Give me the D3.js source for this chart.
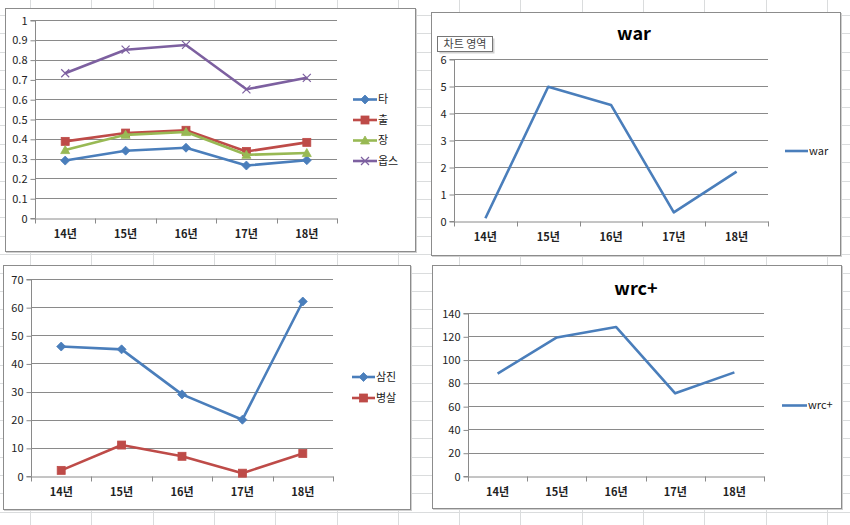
<!DOCTYPE html>
<html><head><meta charset="utf-8">
<script src="https://cdn.jsdelivr.net/npm/d3@7"></script>
<style>
html,body{margin:0;padding:0;background:#fff;}
svg{display:block;}
text{font-family:"Noto Sans CJK KR","Malgun Gothic",sans-serif;}
</style></head><body>
<svg id="c" width="850" height="525"></svg>
<script>
// ---- data ----
const categories = ["14년","15년","16년","17년","18년"];
const seriesTa = [0.29,0.34,0.355,0.265,0.292];
const seriesChul = [0.387,0.429,0.443,0.336,0.382];
const seriesJang = [0.343,0.42,0.434,0.319,0.328];
const seriesOps = [0.731,0.85,0.874,0.65,0.708];
const seriesWar = [0.1,4.97,4.3,0.32,1.83];
const seriesSamjin = [46,45,29,20,62];
const seriesByungsal = [2,11,7,1,8];
const seriesWrc = [88,119,128,71,89];
const ticksRate = [0,0.1,0.2,0.3,0.4,0.5,0.6,0.7,0.8,0.9,1];
const ticksWar = [0,1,2,3,4,5,6];
const ticksCount = [0,10,20,30,40,50,60,70];
const ticksWrc = [0,20,40,60,80,100,120,140];

const BLUE="#4a7ebb", RED="#be4b48", GREEN="#98b954", PURPLE="#7d60a0";
const svg = d3.select("#c");

// spreadsheet grid background
const colX = d3.range(0,15).map(i=>30+i*61.3);
const rowY = d3.range(0,30).map(i=>15+i*18.4);
svg.append("g").selectAll("line.v").data(colX).join("line")
  .attr("x1",d=>Math.round(d)+0.5).attr("x2",d=>Math.round(d)+0.5).attr("y1",0).attr("y2",525)
  .attr("stroke","#dadcdd").attr("stroke-width",1);
svg.append("g").selectAll("line.h").data(rowY).join("line")
  .attr("y1",d=>Math.round(d)+0.5).attr("y2",d=>Math.round(d)+0.5).attr("x1",0).attr("x2",850)
  .attr("stroke","#dadcdd").attr("stroke-width",1);

function marker(g, type, color, x, y){
  if(type==="diamond"){
    g.append("path").attr("d",`M${x},${y-4.5}L${x+4.5},${y}L${x},${y+4.5}L${x-4.5},${y}Z`).attr("fill",color).attr("stroke",color).attr("stroke-width",0.8);
  } else if(type==="square"){
    g.append("rect").attr("x",x-4).attr("y",y-4).attr("width",8).attr("height",8).attr("fill",color).attr("stroke",color).attr("stroke-width",0.8);
  } else if(type==="triangle"){
    g.append("path").attr("d",`M${x},${y-4.5}L${x+4.5},${y+3.5}L${x-4.5},${y+3.5}Z`).attr("fill",color).attr("stroke",color).attr("stroke-width",0.8);
  } else if(type==="x"){
    g.append("path").attr("d",`M${x-4},${y-4}L${x+4},${y+4}M${x-4},${y+4}L${x+4},${y-4}`).attr("stroke",color).attr("stroke-width",1.2).attr("fill","none");
  }
}

function drawChart(cfg){
  const g = svg.append("g");
  // frame
  g.append("rect").attr("x",cfg.frame[0]+1.5).attr("y",cfg.frame[1]+1.5)
    .attr("width",cfg.frame[2]-cfg.frame[0]).attr("height",cfg.frame[3]-cfg.frame[1])
    .attr("fill","none").attr("stroke","#d0d0d0").attr("stroke-width",1);
  g.append("rect").attr("x",cfg.frame[0]+0.5).attr("y",cfg.frame[1]+0.5)
    .attr("width",cfg.frame[2]-cfg.frame[0]).attr("height",cfg.frame[3]-cfg.frame[1])
    .attr("fill","#fff").attr("stroke","#8c8c8c").attr("stroke-width",1);
  const [L,T,R,B] = cfg.plot;
  const x = d3.scaleBand().domain(categories).range([L,R]);
  const y = d3.scaleLinear().domain([cfg.ticks[0],cfg.ticks[cfg.ticks.length-1]]).range([B,T]);
  // gridlines
  g.append("g").selectAll("line").data(cfg.ticks.slice(1)).join("line")
    .attr("x1",L).attr("x2",R).attr("y1",d=>Math.round(y(d))+0.5).attr("y2",d=>Math.round(y(d))+0.5)
    .attr("stroke","#8a8a8a").attr("stroke-width",1);
  // y axis
  const ya = g.append("g").attr("transform",`translate(${L+0.5},0.5)`)
    .call(d3.axisLeft(y).tickValues(cfg.ticks).tickSize(5).tickPadding(3).tickFormat(d=>String(d)));
  ya.select(".domain").attr("stroke","#8a8a8a").attr("d",`M-5,${Math.round(T)}H0V${Math.round(B)}H-5`);
  ya.selectAll(".tick line").attr("stroke","#8a8a8a");
  ya.selectAll(".tick text").attr("font-size",11).attr("fill","#222").attr("font-family",'"Noto Sans CJK KR",sans-serif');
  // x axis
  const xa = g.append("g").attr("transform",`translate(0,${Math.round(B)+0.5})`)
    .call(d3.axisBottom(x).tickSize(0).tickPadding(12));
  xa.select(".domain").attr("stroke","#8a8a8a");
  xa.selectAll(".tick text").attr("font-size",11).attr("fill","#222").attr("font-weight","bold").attr("font-family",'"Noto Sans CJK KR",sans-serif');
  const bounds = categories.map(c=>x(c)).concat([R]);
  xa.selectAll("line.bt").data(bounds).join("line").attr("class","bt")
    .attr("x1",d=>Math.round(d)+0.5).attr("x2",d=>Math.round(d)+0.5).attr("y1",0).attr("y2",5)
    .attr("stroke","#8a8a8a");
  // series
  const line = d3.line().x((d,i)=>x(categories[i])+x.bandwidth()/2).y(d=>y(d));
  cfg.series.forEach(s=>{
    g.append("path").datum(s.values).attr("d",line).attr("fill","none")
      .attr("stroke",s.color).attr("stroke-width",2.6).attr("stroke-linejoin","round");
    if(s.marker){
      s.values.forEach((v,i)=>marker(g,s.marker,s.color,x(categories[i])+x.bandwidth()/2,y(v)));
    }
  });
  // legend
  cfg.series.forEach((s,i)=>{
    const ly = cfg.legend[1]+i*cfg.legend[3];
    g.append("line").attr("x1",cfg.legend[0]).attr("x2",cfg.legend[0]+cfg.legend[2]).attr("y1",ly).attr("y2",ly)
      .attr("stroke",s.color).attr("stroke-width",2.6);
    if(s.marker) marker(g,s.marker,s.color,cfg.legend[0]+cfg.legend[2]/2,ly);
    g.append("text").attr("x",cfg.legend[0]+cfg.legend[2]+1).attr("y",ly).attr("dy","0.35em")
      .attr("font-size",11).attr("fill","#222").text(s.name);
  });
  if(cfg.title){
    g.append("text").attr("x",cfg.title[1]).attr("y",cfg.title[2]).attr("text-anchor","middle")
      .attr("dy","0.35em").attr("font-size",18).attr("font-weight","bold").attr("fill","#000")
      .attr("font-family","Arial,'Liberation Sans',sans-serif").text(cfg.title[0]);
  }
  return g;
}

drawChart({frame:[5,8,415,251], plot:[35,20,337,218], ticks:ticksRate,
  series:[{name:"타",values:seriesTa,color:BLUE,marker:"diamond"},
          {name:"출",values:seriesChul,color:RED,marker:"square"},
          {name:"장",values:seriesJang,color:GREEN,marker:"triangle"},
          {name:"옵스",values:seriesOps,color:PURPLE,marker:"x"}],
  legend:[353,99.5,24,20.5]});

const gw = drawChart({frame:[431,12,840,255], plot:[454,59,768,221], ticks:ticksWar,
  series:[{name:"war",values:seriesWar,color:BLUE}],
  legend:[785,151,23,20], title:["war",634,34]});
// "차트 영역" tooltip
const tip = gw.append("g");
tip.append("rect").attr("x",439.5).attr("y",38.5).attr("width",55).attr("height",15).attr("fill","#b0b0b0").attr("opacity",0.6);
tip.append("rect").attr("x",437.5).attr("y",36.5).attr("width",55).attr("height",15).attr("fill","#fff").attr("stroke","#767676");
tip.append("text").attr("x",465).attr("y",44).attr("dy","0.35em").attr("text-anchor","middle")
  .attr("font-size",11).attr("fill","#444").text("차트 영역");

drawChart({frame:[3,265,410,509], plot:[31,279,333,476], ticks:ticksCount,
  series:[{name:"삼진",values:seriesSamjin,color:BLUE,marker:"diamond"},
          {name:"병살",values:seriesByungsal,color:RED,marker:"square"}],
  legend:[352,377,23,21]});

drawChart({frame:[432,265,841,508], plot:[468,313,764,476], ticks:ticksWrc,
  series:[{name:"wrc+",values:seriesWrc,color:BLUE}],
  legend:[782,405.5,25,20], title:["wrc+",636,289]});
</script>
</body></html>
